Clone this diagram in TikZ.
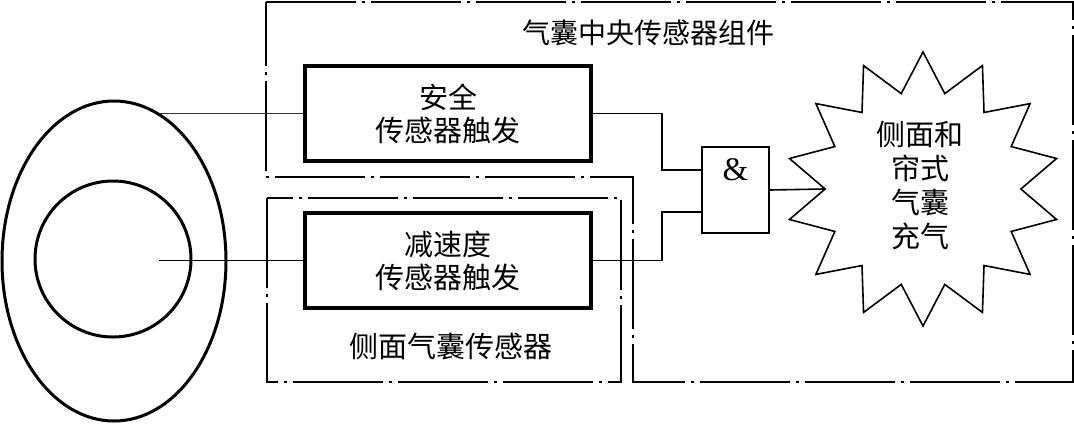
\documentclass[tikz,border=0pt]{standalone}
\usepackage{fontspec}
\setmainfont{Liberation Serif}
\newfontfamily\cjk{Noto Sans CJK SC}
\usetikzlibrary{shapes.geometric}
\tikzset{
  dashdot/.style={line width=2pt, dash pattern=on 90pt off 6pt on 3pt off 6pt},
  sensorbox/.style={draw, line width=3.2pt, minimum width=286pt, minimum height=95pt, inner sep=0pt,
     font=\cjk\fontsize{29}{33}\selectfont, align=center},
  gatebox/.style={draw, line width=2pt, minimum width=67pt, minimum height=86pt, inner sep=0pt},
  wire/.style={line width=1.6pt},
  thinwire/.style={line width=1pt, black!80},
  lbl/.style={font=\cjk\fontsize{29}{34}\selectfont, align=center, inner sep=0pt}
}
\begin{document}
\begin{tikzpicture}[x=1pt,y=-1pt]
\useasboundingbox (0,0) rectangle (1074,424);
% dash-dot groups
\draw[dashdot] (266,2) -- (1073,2) -- (1073,382) -- (633,382) -- (633,177) -- (266,177) -- cycle;
\draw[dashdot] (267,198) rectangle (621,382);
% vehicle outline
\draw[line width=3pt] (114,261) ellipse [x radius=112, y radius=160];
\draw[line width=3pt] (113,259) circle [radius=78];
% boxes
\node[sensorbox] (safe) at (448,113.5) {安全\\传感器触发};
\node[sensorbox] (decel) at (448,260.5) {减速度\\传感器触发};
\node[gatebox] (gate) at (735.5,190) {};
\node[font=\fontsize{33}{35}\selectfont, inner sep=0pt] (amp) at (735.5,170) {\&};
\node[star, star points=14, star point ratio=1.4, minimum size=274pt, inner sep=0pt, draw, line width=1.6pt] (star) at (923,189) {};
\node[lbl] (startext) at (920,186) {侧面和\\帘式\\气囊\\充气};
% labels
\node[lbl, font=\cjk\fontsize{28}{30}\selectfont] (title) at (648,33) {气囊中央传感器组件};
\node[lbl] (side) at (451,347) {侧面气囊传感器};
% connectors
\coordinate (tap) at (160,113.5);
\coordinate (ctr) at (159,260.5);
\coordinate (j1) at (662,0);
\draw[thinwire] (tap) -- (safe.west);
\draw[wire] (ctr) -- (decel.west);
\draw[wire] (safe.east) -- (safe.east -| j1) |- ([yshift=20pt]gate.west);
\draw[wire] (decel.east) -- (decel.east -| j1) |- ([yshift=-22pt]gate.west);
\draw[wire] (gate.east) -- (star.west);
\end{tikzpicture}
\end{document}
